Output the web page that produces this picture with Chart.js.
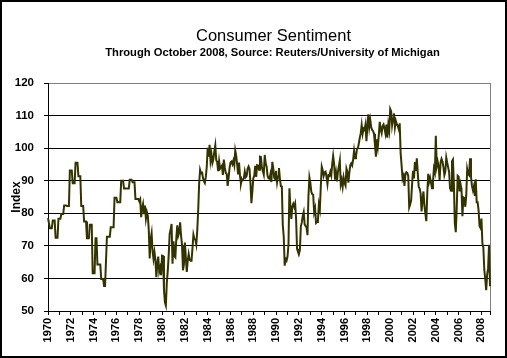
<!DOCTYPE html>
<html>
<head>
<meta charset="utf-8">
<script src="https://cdn.jsdelivr.net/npm/chart.js@4.4.1/dist/chart.umd.min.js"></script>
<style>
  html, body { margin: 0; padding: 0; background: #fff; }
  #wrap { position: relative; width: 507px; height: 358px; overflow: hidden; font-family: "Liberation Sans", Arial, sans-serif; }
  #frame { position: absolute; left: 0; top: 0; width: 507px; height: 358px; box-sizing: border-box; border: 2px solid #000; pointer-events: none; }
  .t { position: absolute; width: 507px; text-align: center; color: #000; white-space: nowrap; }
  #title { top: 26px; left: 20px; font-size: 16.5px; line-height: 18px; }
  #sub { top: 46px; left: 19px; font-size: 11.2px; line-height: 12px; font-weight: bold; }
  canvas { position: absolute; left: 0; top: 0; }
</style>
</head>
<body>
<div id="wrap">
  <canvas id="chart" width="507" height="358"></canvas>
  <div class="t" id="title">Consumer Sentiment</div>
  <div class="t" id="sub">Through October 2008, Source: Reuters/University of Michigan</div>
  <div id="frame"></div>
</div>
<script>
const startYear = 1970;

// 1970-1977: survey was quarterly, each reading held over its months
const sentiment1970s = [
  78.5, 78.5, 75.4, 75.4, 75.4, 77.8, 77.8, 77.8, 72.5, 72.5, 72.5, 78.3,
  78.3, 78.3, 79.8, 79.8, 79.8, 82.4, 82.4, 82.4, 82.2, 82.2, 82.2, 93.1,
  93.1, 93.1, 89.2, 89.2, 89.2, 95.5, 95.5, 95.5, 91.4, 91.4, 91.4, 82.2,
  82.2, 82.2, 77.5, 77.5, 77.5, 72.3, 72.3, 72.3, 76.5, 76.5, 76.5, 61.6,
  61.6, 61.6, 72.3, 72.3, 64.3, 64.3, 64.3, 64.3, 59.8, 59.8, 59.8, 57.7,
  57.7, 57.7, 72.8, 72.8, 72.8, 72.8, 75.7, 75.7, 75.7, 75.7, 84.8, 84.8,
  84.8, 83.4, 83.4, 83.4, 83.4, 90.0, 90.0, 90.0, 87.6, 87.6, 87.6, 87.6,
  87.6, 87.6, 90.3, 90.3, 90.3, 89.5, 89.5, 89.5, 84.4, 84.4, 84.4, 84.4
];

// 1978-1989 monthly
const sentiment1980s = [
  83.7, 84.3, 78.8, 81.6, 82.9, 80.0, 82.4, 78.4, 80.4, 79.3, 75.0, 66.1,
  72.1, 73.9, 68.4, 66.0, 68.1, 65.8, 60.4, 64.5, 66.7, 62.1, 63.3, 61.0,
  67.0, 66.9, 56.5, 52.7, 51.7, 58.7, 62.3, 67.3, 73.7, 75.0, 76.7, 64.5,
  71.4, 66.9, 66.5, 72.4, 76.3, 73.1, 74.1, 77.2, 73.1, 70.3, 62.5, 64.3,
  71.0, 66.5, 62.0, 65.5, 67.5, 65.7, 65.4, 65.4, 69.3, 73.4, 72.1, 71.9,
  70.4, 74.6, 80.8, 89.1, 93.3, 92.2, 92.8, 90.9, 89.9, 89.3, 91.1, 94.2,
  100.1, 97.4, 101.0, 96.1, 98.1, 95.5, 96.6, 99.1, 100.9, 96.3, 95.7, 92.9,
  96.0, 93.7, 93.7, 94.6, 91.8, 96.5, 94.0, 92.4, 92.1, 88.4, 90.9, 93.9,
  95.6, 95.9, 95.1, 96.2, 94.8, 99.3, 97.7, 94.9, 91.9, 95.6, 91.4, 89.1,
  90.4, 90.2, 90.8, 92.8, 91.1, 91.5, 93.7, 94.4, 93.6, 89.3, 83.1, 86.8,
  90.8, 91.6, 94.6, 91.2, 94.8, 94.7, 93.4, 97.4, 97.3, 94.1, 93.0, 91.9,
  97.9, 95.4, 94.3, 91.5, 90.7, 90.6, 92.0, 89.6, 95.8, 93.9, 90.9, 90.5
];

// 1990-1999 monthly
const sentiment1990s = [
  93.0, 89.5, 91.3, 93.9, 90.6, 88.3, 88.2, 76.4, 72.8, 63.9, 66.0, 65.5,
  66.8, 70.4, 87.7, 81.8, 78.3, 82.1, 82.9, 82.0, 83.0, 78.3, 69.1, 68.2,
  67.5, 68.8, 76.0, 77.2, 79.2, 80.4, 76.6, 76.1, 75.6, 73.3, 85.3, 91.0,
  89.3, 86.6, 85.9, 85.6, 80.3, 81.5, 77.0, 77.3, 77.9, 82.7, 81.2, 88.2,
  94.3, 93.2, 91.5, 92.6, 92.8, 91.2, 89.0, 91.7, 91.5, 92.7, 91.6, 95.1,
  97.6, 95.1, 90.3, 92.5, 89.8, 92.7, 94.4, 96.2, 88.9, 90.2, 88.2, 91.0,
  89.3, 88.5, 93.7, 92.7, 89.4, 92.4, 94.7, 95.3, 94.7, 96.5, 99.2, 96.9,
  97.4, 99.7, 100.0, 101.4, 103.2, 104.5, 107.1, 104.4, 106.0, 105.6, 107.2, 102.1,
  106.6, 110.4, 106.5, 108.7, 106.5, 105.6, 105.2, 104.4, 100.9, 97.4, 102.7, 100.5,
  103.9, 108.1, 105.7, 104.6, 106.8, 107.3, 106.0, 104.5, 107.2, 103.2, 107.2, 105.4
];

// 2000 - October 2008 monthly
const sentiment2000s = [
  112.0, 111.3, 107.1, 109.2, 110.7, 106.4, 108.3, 107.3, 106.8, 105.8, 107.6, 98.4,
  94.7, 90.6, 91.5, 88.4, 92.0, 92.6, 92.4, 91.5, 81.8, 82.7, 83.9, 88.8,
  93.0, 90.7, 95.7, 93.0, 96.9, 92.4, 88.1, 87.6, 86.1, 80.6, 84.2, 86.7,
  82.4, 79.9, 77.6, 86.0, 92.1, 89.7, 90.9, 89.3, 87.7, 89.6, 93.7, 92.6,
  103.8, 94.4, 95.8, 94.2, 90.2, 95.6, 96.7, 95.9, 94.2, 91.7, 92.8, 97.1,
  95.5, 94.1, 92.6, 87.7, 86.9, 96.0, 96.5, 89.1, 76.9, 74.2, 81.6, 91.5,
  91.2, 86.7, 88.9, 87.4, 79.1, 84.9, 84.7, 82.0, 85.4, 93.6, 92.1, 91.7,
  96.9, 91.3, 88.4, 87.1, 88.3, 85.3, 90.4, 83.4, 83.4, 80.9, 76.1, 75.5,
  78.4, 70.8, 69.5, 62.6, 59.8, 56.4, 61.2, 63.0, 70.3, 57.6
];

const sentiment = sentiment1970s.concat(sentiment1980s, sentiment1990s, sentiment2000s);

// month labels "1970-01" ...
const months = sentiment.map((v, i) => {
  const yr = startYear + Math.floor(i / 12);
  const m = (i % 12) + 1;
  return yr + '-' + (m < 10 ? '0' + m : m);
});

const yMin = 50, yMax = 120, yStep = 10;

const fontFamily = '"Liberation Sans", Arial, sans-serif';

// gray frame on the right edge of the plot, plus the last axis tick
const plotFrame = {
  id: 'plotFrame',
  beforeDatasetsDraw(chart) {
    const ctx = chart.ctx;
    const a = chart.chartArea;
    const x = Math.round(a.right) + 0.5;
    ctx.save();
    ctx.lineWidth = 1;
    ctx.strokeStyle = '#808080';
    ctx.beginPath();
    ctx.moveTo(x, a.top);
    ctx.lineTo(x, a.bottom);
    ctx.stroke();
    ctx.strokeStyle = '#000';
    ctx.beginPath();
    ctx.moveTo(x, a.bottom);
    ctx.lineTo(x, a.bottom + 4);
    ctx.stroke();
    ctx.restore();
  }
};

new Chart(document.getElementById('chart'), {
  type: 'line',
  data: {
    labels: months,
    datasets: [{
      label: 'Consumer Sentiment',
      data: sentiment,
      borderColor: '#333300',
      borderWidth: 2,
      pointRadius: 0,
      tension: 0,
      fill: false
    }]
  },
  options: {
    responsive: false,
    animation: false,
    devicePixelRatio: 1,
    layout: { padding: { top: 83, right: 17, left: 0, bottom: 0 } },
    plugins: {
      legend: { display: false },
      tooltip: { enabled: false }
    },
    scales: {
      x: {
        type: 'category',
        offset: false,
        border: { display: true, color: '#000', width: 1 },
        grid: {
          drawOnChartArea: false,
          drawTicks: true,
          tickLength: 4,
          tickColor: ctx => (ctx.index % 12 === 0 ? '#000' : 'rgba(0,0,0,0)')
        },
        ticks: {
          autoSkip: false,
          minRotation: 90,
          maxRotation: 90,
          padding: 3,
          color: '#000',
          font: { family: fontFamily, size: 11, weight: 'bold' },
          callback: function(val, i) {
            if (i % 12 !== 0) return '';
            const yr = startYear + i / 12;
            return yr % 2 === 0 ? String(yr) : '';
          }
        },
        afterFit: s => { s.height = 47; }
      },
      y: {
        min: yMin,
        max: yMax,
        border: { display: true, color: '#000', width: 1 },
        grid: {
          color: ctx => (ctx.tick && ctx.tick.value === yMax ? '#808080' : '#000'),
          lineWidth: 1,
          tickLength: 4,
          tickColor: '#000'
        },
        ticks: {
          stepSize: yStep,
          padding: 10,
          color: '#000',
          font: { family: fontFamily, size: 11.5, weight: 'bold' }
        },
        title: {
          display: true,
          text: 'Index',
          color: '#000',
          font: { family: fontFamily, size: 12, weight: 'bold' },
          padding: { top: 9, bottom: 0 }
        },
        afterFit: s => { s.width = 48; }
      }
    }
  },
  plugins: [plotFrame]
});
</script>
</body>
</html>
